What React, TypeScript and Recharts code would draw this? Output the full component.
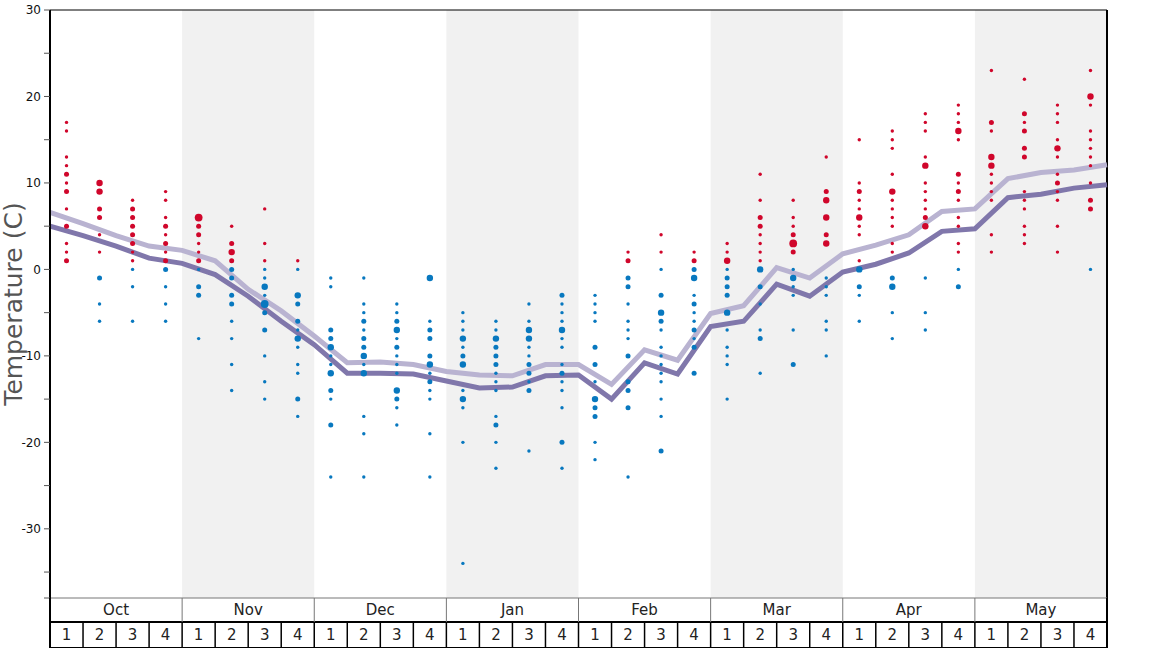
import React from "react";
import {
  ComposedChart,
  Line,
  Scatter,
  XAxis,
  YAxis,
  ReferenceArea,
  ReferenceLine,
} from "recharts";

const MONTHS = ["Oct", "Nov", "Dec", "Jan", "Feb", "Mar", "Apr", "May"];
const WEEKS = ["1", "2", "3", "4"];
const Y_TICKS = [-38, -35, -30, -25, -20, -15, -10, -5, 0, 5, 10, 15, 20, 25, 30];

// values at the week boundaries (33 points)
const upperLine = [
  6.6, 5.3, 3.9, 2.7, 2.2, 1.0, -2.3, -4.8, -7.7, -10.8, -10.7, -11.0, -11.8,
  -12.2, -12.3, -11.0, -11.0, -13.3, -9.3, -10.5, -5.1, -4.2, 0.2, -1.0, 1.8,
  2.8, 4.0, 6.7, 7.0, 10.5, 11.2, 11.5, 12.1,
];
const lowerLine = [
  5.0, 3.9, 2.7, 1.3, 0.7, -0.6, -3.1, -6.0, -8.7, -12.0, -12.0, -12.1, -12.9,
  -13.7, -13.6, -12.3, -12.2, -15.0, -10.8, -12.1, -6.6, -6.0, -1.7, -3.1, -0.3,
  0.6, 1.9, 4.4, 4.7, 8.3, 8.7, 9.4, 9.8,
];

// per week: [temperature, count class]
const weekDots: [number, number][][] = [
  [[17, 1], [16, 1], [13, 1], [12, 1], [11, 2], [10, 1], [9, 2], [7, 1], [5, 2], [3, 1], [2, 1], [1, 2]],
  [[10, 3], [9, 3], [7, 2], [6, 2], [4, 1], [2, 1], [-1, 2], [-4, 1], [-6, 1]],
  [[8, 1], [7, 2], [6, 2], [5, 2], [4, 2], [3, 2], [2, 1], [1, 1], [0, 1], [-2, 1], [-6, 1]],
  [[9, 1], [8, 1], [6, 1], [5, 2], [4, 1], [3, 2], [2, 1], [1, 2], [0, 2], [-2, 1], [-4, 1], [-6, 1]],
  [[6, 4], [5, 2], [4, 2], [3, 1], [2, 1], [1, 2], [0, 1], [-2, 2], [-3, 2], [-8, 1]],
  [[5, 1], [3, 2], [2, 3], [1, 2], [0, 2], [-1, 2], [-3, 2], [-4, 2], [-6, 1], [-8, 1], [-11, 1], [-14, 1]],
  [[7, 1], [3, 1], [1, 1], [0, 1], [-1, 1], [-2, 3], [-3, 1], [-4, 4], [-5, 2], [-7, 2], [-10, 1], [-13, 1], [-15, 1]],
  [[1, 1], [0, 1], [-3, 3], [-4, 2], [-6, 2], [-7, 1], [-8, 3], [-9, 1], [-11, 1], [-12, 1], [-15, 2], [-17, 1]],
  [[-1, 1], [-2, 1], [-7, 2], [-8, 2], [-9, 3], [-10, 1], [-11, 1], [-12, 3], [-14, 2], [-15, 1], [-18, 2], [-24, 1]],
  [[-1, 1], [-4, 1], [-5, 1], [-6, 2], [-7, 1], [-8, 2], [-9, 2], [-10, 3], [-11, 1], [-12, 3], [-17, 1], [-19, 1], [-24, 1]],
  [[-4, 1], [-5, 1], [-6, 2], [-7, 3], [-8, 1], [-9, 2], [-10, 1], [-11, 1], [-12, 1], [-14, 3], [-15, 2], [-16, 1], [-18, 1]],
  [[-1, 3], [-6, 1], [-7, 2], [-8, 2], [-10, 2], [-11, 3], [-12, 1], [-13, 2], [-14, 1], [-15, 1], [-19, 1], [-24, 1]],
  [[-5, 1], [-6, 1], [-7, 1], [-8, 3], [-9, 1], [-10, 2], [-11, 3], [-14, 1], [-15, 3], [-16, 1], [-20, 1], [-34, 1]],
  [[-6, 1], [-7, 1], [-8, 3], [-9, 2], [-10, 2], [-11, 2], [-12, 1], [-13, 1], [-14, 1], [-17, 1], [-18, 2], [-20, 1], [-23, 1]],
  [[-4, 1], [-6, 1], [-7, 3], [-8, 3], [-9, 1], [-10, 1], [-11, 2], [-12, 2], [-13, 1], [-14, 2], [-21, 1]],
  [[-3, 2], [-4, 1], [-5, 1], [-6, 1], [-7, 3], [-8, 1], [-9, 1], [-11, 1], [-12, 2], [-13, 1], [-14, 1], [-16, 1], [-20, 2], [-23, 1]],
  [[-3, 1], [-4, 1], [-5, 1], [-6, 1], [-9, 2], [-11, 2], [-13, 1], [-15, 3], [-16, 2], [-17, 2], [-20, 1], [-22, 1]],
  [[2, 1], [1, 2], [-1, 2], [-2, 2], [-4, 1], [-6, 1], [-7, 1], [-8, 1], [-10, 2], [-13, 2], [-14, 2], [-16, 2], [-24, 1]],
  [[4, 1], [2, 1], [0, 1], [-3, 2], [-5, 3], [-6, 2], [-7, 1], [-9, 1], [-10, 1], [-11, 1], [-12, 1], [-13, 1], [-15, 1], [-17, 1], [-21, 2]],
  [[2, 1], [1, 2], [0, 2], [-1, 3], [-3, 1], [-4, 2], [-5, 1], [-6, 1], [-7, 2], [-8, 1], [-9, 2], [-12, 2]],
  [[3, 1], [2, 1], [1, 3], [0, 1], [-1, 2], [-2, 2], [-3, 2], [-5, 3], [-7, 1], [-9, 1], [-10, 1], [-11, 1], [-15, 1]],
  [[11, 1], [8, 1], [6, 2], [5, 2], [4, 1], [3, 1], [2, 1], [1, 1], [0, 3], [-2, 2], [-4, 1], [-7, 1], [-8, 2], [-12, 1]],
  [[8, 1], [6, 1], [5, 1], [4, 2], [3, 4], [2, 2], [0, 1], [-1, 3], [-2, 1], [-3, 1], [-7, 1], [-11, 2]],
  [[13, 1], [9, 2], [8, 3], [6, 3], [4, 2], [3, 3], [-1, 1], [-2, 1], [-3, 1], [-6, 1], [-7, 1], [-10, 1]],
  [[15, 1], [10, 1], [9, 2], [8, 1], [7, 1], [6, 3], [5, 1], [4, 1], [1, 1], [0, 3], [-2, 2], [-3, 1], [-6, 1]],
  [[16, 1], [15, 1], [14, 1], [11, 1], [9, 3], [8, 1], [7, 1], [6, 1], [5, 1], [3, 1], [2, 1], [-1, 2], [-2, 3], [-5, 1], [-8, 1]],
  [[18, 1], [17, 1], [16, 1], [13, 1], [12, 3], [10, 1], [9, 1], [8, 1], [7, 1], [6, 2], [5, 3], [-1, 1], [-5, 1], [-7, 1]],
  [[19, 1], [18, 1], [17, 1], [16, 3], [15, 1], [11, 2], [10, 1], [9, 2], [8, 1], [6, 1], [5, 1], [3, 1], [2, 1], [0, 1], [-2, 2]],
  [[23, 1], [17, 2], [16, 1], [13, 3], [12, 3], [11, 1], [10, 1], [9, 1], [8, 1], [4, 1], [2, 1]],
  [[22, 1], [18, 2], [17, 1], [16, 2], [14, 2], [13, 2], [9, 1], [8, 1], [7, 1], [5, 1], [4, 1], [3, 1]],
  [[19, 1], [18, 1], [17, 1], [15, 1], [14, 3], [13, 1], [11, 1], [10, 2], [9, 1], [8, 1], [5, 1], [2, 1]],
  [[23, 1], [20, 3], [19, 1], [16, 1], [15, 1], [14, 1], [13, 1], [12, 1], [10, 1], [8, 2], [7, 2], [0, 1]],
];

const WIDTH = 1168;
const HEIGHT = 648;
const LEFT = 50;
const RIGHT = 61;
const CELL = (WIDTH - LEFT - RIGHT) / 32;
const FONT = "DejaVu Sans, Verdana, sans-serif";
const RED = "#d0062b";
const BLUE = "#0878bf";
const RADIUS = [0, 1.7, 2.5, 3.2, 3.9];

const lineData = upperLine.map((v, i) => ({ x: i, hi: v, lo: lowerLine[i] }));
const dotData = weekDots.flatMap((col, w) =>
  col.map(([v, s]) => ({ x: w + 0.5, y: v, s }))
);

const DotShape = (props: any) => {
  const { cx, cy, payload } = props;
  if (cx == null || cy == null) return null;
  return (
    <circle cx={cx} cy={cy} r={RADIUS[payload.s]} fill={payload.y > 0 ? RED : BLUE} />
  );
};

const MonthTick = (props: any) => {
  const { x, y, payload } = props;
  const i = Math.round((payload.value - 2) / 4);
  const left = x - CELL * 2;
  const right = x + CELL * 2;
  return (
    <g>
      <line
        x1={left} x2={left} y1={y} y2={y + 24}
        stroke={i === 0 ? "#000" : "#777"} strokeWidth={i === 0 ? 2 : 1}
      />
      {i === MONTHS.length - 1 && (
        <line x1={right} x2={right} y1={y} y2={y + 24} stroke="#000" strokeWidth={2} />
      )}
      <text
        x={x} y={y + 12} textAnchor="middle" dominantBaseline="central"
        fontSize={15} fontFamily={FONT} fill="#222"
      >
        {MONTHS[i]}
      </text>
    </g>
  );
};

const WeekTick = (props: any) => {
  const { x, y, payload } = props;
  const k = Math.round(payload.value - 0.5);
  const left = x - CELL / 2;
  const right = x + CELL / 2;
  return (
    <g>
      <line
        x1={left} x2={left} y1={y} y2={y + 26}
        stroke="#000" strokeWidth={k === 0 ? 2 : 1.5}
      />
      {k === 31 && (
        <line x1={right} x2={right} y1={y} y2={y + 26} stroke="#000" strokeWidth={2} />
      )}
      <line x1={left} x2={right} y1={y + 25.5} y2={y + 25.5} stroke="#000" strokeWidth={1} />
      <text
        x={x} y={y + 13} textAnchor="middle" dominantBaseline="central"
        fontSize={15} fontFamily={FONT} fill="#222"
      >
        {WEEKS[k % 4]}
      </text>
    </g>
  );
};

const YLabel = (props: any) => {
  const { viewBox } = props;
  const cy = viewBox.y + viewBox.height / 2;
  return (
    <text
      x={13} y={cy} transform={`rotate(-90, 13, ${cy})`}
      textAnchor="middle" dominantBaseline="central"
      fontSize={25} fontFamily={FONT} fill="#555"
    >
      Temperature (C)
    </text>
  );
};

export default function App() {
  const monthTicks = MONTHS.map((_, i) => i * 4 + 2);
  const weekTicks = weekDots.map((_, i) => i + 0.5);

  return (
    <div style={{ position: "absolute", left: 0, top: 0, width: WIDTH, height: HEIGHT, background: "#fff" }}>
      <ComposedChart
        width={WIDTH}
        height={HEIGHT}
        margin={{ top: 10, right: RIGHT, bottom: 0, left: 0 }}
      >
        <XAxis
          xAxisId="month"
          dataKey="x"
          type="number"
          domain={[0, 32]}
          ticks={monthTicks}
          interval={0}
          height={24}
          tickSize={0}
          tickMargin={0}
          tickLine={false}
          axisLine={{ stroke: "#777", strokeWidth: 1 }}
          tick={<MonthTick />}
        />
        <XAxis
          xAxisId="week"
          dataKey="x"
          type="number"
          domain={[0, 32]}
          ticks={weekTicks}
          interval={0}
          height={26}
          tickSize={0}
          tickMargin={0}
          tickLine={false}
          axisLine={{ stroke: "#000", strokeWidth: 2 }}
          tick={<WeekTick />}
        />
        <YAxis
          type="number"
          domain={[-38, 30]}
          ticks={Y_TICKS}
          interval={0}
          width={LEFT}
          tickSize={6}
          tickMargin={3}
          axisLine={{ stroke: "#000", strokeWidth: 2 }}
          tickLine={{ stroke: "#555" }}
          tick={{ fontSize: 12, fill: "#111", fontFamily: FONT }}
          tickFormatter={(v: number) => (v % 10 === 0 ? String(v) : "")}
          label={<YLabel />}
        />
        {[1, 3, 5, 7].map((m) => (
          <ReferenceArea
            key={m}
            xAxisId="week"
            x1={m * 4}
            x2={m * 4 + 4}
            y1={-38}
            y2={30}
            fill="#f1f1f1"
            fillOpacity={1}
            stroke="none"
          />
        ))}
        <ReferenceLine xAxisId="week" y={30} stroke="#000" strokeWidth={1} />
        <ReferenceLine xAxisId="week" x={32} stroke="#000" strokeWidth={2} />
        {/* invisible series so the month axis gets a domain */}
        <Line
          xAxisId="month"
          data={lineData}
          dataKey="hi"
          stroke="none"
          dot={false}
          activeDot={false}
          legendType="none"
          isAnimationActive={false}
        />
        <Scatter
          xAxisId="week"
          data={dotData}
          dataKey="y"
          shape={<DotShape />}
          isAnimationActive={false}
        />
        <Line
          xAxisId="week"
          data={lineData}
          dataKey="hi"
          type="linear"
          stroke="#b9b3d1"
          strokeWidth={5}
          dot={false}
          activeDot={false}
          isAnimationActive={false}
        />
        <Line
          xAxisId="week"
          data={lineData}
          dataKey="lo"
          type="linear"
          stroke="#8077ab"
          strokeWidth={5}
          dot={false}
          activeDot={false}
          isAnimationActive={false}
        />
      </ComposedChart>
    </div>
  );
}
